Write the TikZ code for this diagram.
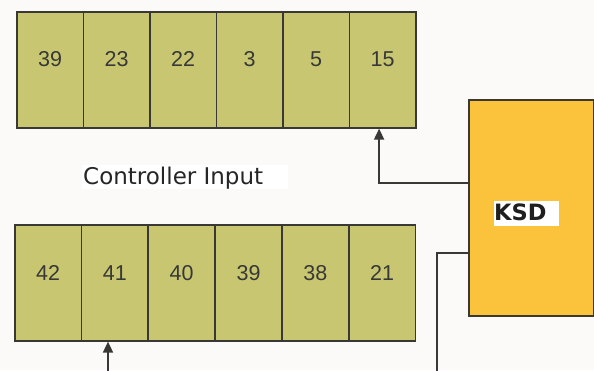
\documentclass[tikz,border=0pt]{standalone}
\usepackage{fontspec}
\setmainfont{DejaVu Sans}
\newfontfamily\numfont{Liberation Sans}
\usetikzlibrary{arrows.meta}
\definecolor{pagebg}{RGB}{252,250,248}
\definecolor{cellfill}{RGB}{200,198,112}
\definecolor{ksdfill}{RGB}{251,194,60}
\definecolor{edge}{RGB}{58,56,52}
\tikzset{
  cell/.style={draw=edge, line width=1.6pt, fill=cellfill, minimum width=66.6pt,
    minimum height=116pt, inner sep=0pt, anchor=north west},
  num/.style={font=\numfont\fontsize{21.5}{21.5}\selectfont, text=black!78, inner sep=0pt},
  ksdbox/.style={draw=edge, line width=1.6pt, fill=ksdfill, minimum width=125pt,
    minimum height=216pt, inner sep=0pt, anchor=north west},
  tag/.style={fill=white, inner sep=0pt, anchor=north west},
  wire/.style={draw=edge, line width=1.6pt},
  tip/.style={wire, -{Triangle[width=10pt,length=11pt]}}
}
\begin{document}
\begin{tikzpicture}[x=1pt, y=-1pt]
  \fill[pagebg] (0,0) rectangle (594,370);
  \useasboundingbox (0,0) rectangle (594,370);

  % upper register row
  \foreach \v [count=\i] in {39,23,22,3,5,15} {
    \node[cell] (t\i) at ({16+66.5*(\i-1)}, 11) {};
    \node[num] (tn\i) at ([yshift=11pt]t\i.center) {\v};
  }
  % lower register row
  \foreach \v [count=\i] in {42,41,40,39,38,21} {
    \node[cell] (b\i) at ({14+66.8*(\i-1)}, 224) {};
    \node[num] (bn\i) at ([yshift=10pt]b\i.center) {\v};
  }

  % KSD block and its tag
  \node[ksdbox] (ksd) at (468,99) {};
  \node[tag, minimum width=65pt, minimum height=25pt] (ksdtag) at (494,201) {};
  \node[font=\bfseries\fontsize{22.5}{22.5}\selectfont, text=black!88, anchor=west, inner sep=0pt]
    (ksdtxt) at (494,212) {KSD};

  % caption
  \node[tag, minimum width=206pt, minimum height=24pt] (captag) at (82,165) {};
  \node[font=\fontsize{23}{23}\selectfont, text=black!85, anchor=base west, inner sep=0pt]
    (cap) at (83,184) {Controller Input};

  % connectors
  \coordinate (k1) at (ksd.west |- 0,183);
  \coordinate (k2) at (ksd.west |- 0,253);
  \coordinate (e2) at (437,372);
  \coordinate (e3) at (108,372);
  \draw[tip] (k1) -| ([xshift=-3.5pt]t6.south);
  \draw[wire] (k2) -| (e2);
  \draw[tip] (e3) -- (e3 |- b2.south);
\end{tikzpicture}
\end{document}
